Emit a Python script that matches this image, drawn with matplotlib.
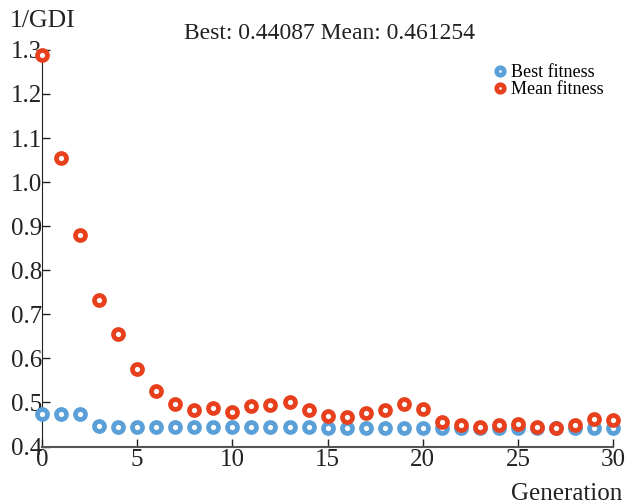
import matplotlib
matplotlib.use("Agg")
import matplotlib.pyplot as plt

generations = list(range(31))
best_fitness = [0.474, 0.474, 0.473, 0.447, 0.445, 0.445, 0.445, 0.445, 0.445, 0.444,
                0.444, 0.444, 0.444, 0.444, 0.444, 0.441, 0.441, 0.441, 0.441, 0.441,
                0.441, 0.441, 0.441, 0.441, 0.441, 0.441, 0.441, 0.441, 0.441, 0.441,
                0.441]
mean_fitness = [1.289, 1.055, 0.880, 0.733, 0.656, 0.576, 0.526, 0.497, 0.483, 0.488,
                0.479, 0.492, 0.495, 0.500, 0.483, 0.470, 0.466, 0.477, 0.483, 0.497,
                0.485, 0.455, 0.449, 0.444, 0.450, 0.451, 0.445, 0.443, 0.450, 0.463,
                0.461]

plt.rcParams['font.family'] = ['Liberation Serif', 'DejaVu Serif']

fig = plt.figure(figsize=(6.27, 5.04), dpi=100)
ax = fig.add_axes([0.067, 0.114, 0.911, 0.787])

ax.plot(generations, best_fitness, 'o', ls='none', color='#5a9fd8', mfc='white',
        mec='#5a9fd8', ms=7.2, mew=3.4, clip_on=False, label='Best fitness', zorder=3)
ax.plot(generations, mean_fitness, 'o', ls='none', color='#e8401c', mfc='white',
        mec='#e8401c', ms=7.2, mew=3.4, clip_on=False, label='Mean fitness', zorder=4)

ax.set_xlim(0, 30)
ax.set_ylim(0.4, 1.3)
ax.set_xticks([0, 5, 10, 15, 20, 25, 30])
ax.set_yticks([0.4, 0.5, 0.6, 0.7, 0.8, 0.9, 1.0, 1.1, 1.2, 1.3])
ax.set_yticklabels(['0.4', '0.5', '0.6', '0.7', '0.8', '0.9', '1.0', '1.1', '1.2', '1.3'])
ax.tick_params(direction='in', length=6, width=1, labelsize=18, colors='#222222', pad=0)
ax.tick_params(axis='x', pad=2)
for s in ['top', 'right']:
    ax.spines[s].set_visible(False)
ax.spines['left'].set_color('#222222')
ax.spines['bottom'].set_color('#555555')
ax.spines['bottom'].set_linewidth(1.5)

fig.text(0.016, 0.946, '1/GDI', fontsize=18.5, color='#222222')
fig.text(0.525, 0.922, 'Best: 0.44087 Mean: 0.461254', fontsize=17, ha='center', color='#222222')
fig.text(0.993, 0.008, 'Generation', fontsize=18, ha='right', color='#222222')

leg = ax.legend(loc='upper right', bbox_to_anchor=(1.012, 1.005), frameon=False, fontsize=13,
                handletextpad=0.1, labelspacing=0.0, markerscale=0.75, handlelength=1)

fig.savefig('out.png', dpi=100)
